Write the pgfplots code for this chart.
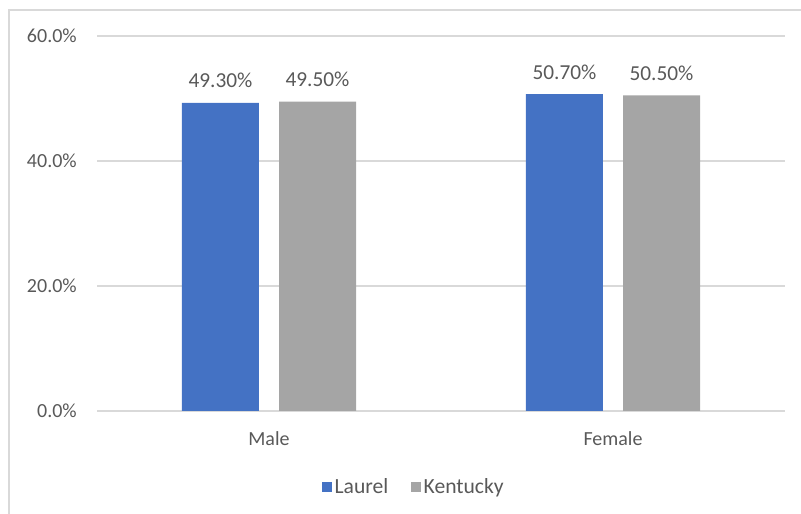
\documentclass[border=0pt]{standalone}
\usepackage{pgfplots}
\pgfplotsset{compat=1.18}
\usepackage{fontspec}
\setmainfont{Carlito}
\definecolor{laurel}{HTML}{4472C4}
\definecolor{kentucky}{HTML}{A5A5A5}
\definecolor{gridc}{HTML}{D9D9D9}
\definecolor{txt}{HTML}{595959}
\begin{document}
\begin{tikzpicture}[x=0.75pt,y=0.75pt]
\path[use as bounding box] (0,0) rectangle (801,514);
% chart frame
\draw[gridc, line width=1.5pt] (9,-5) -- (9,504) -- (806,504);
\begin{axis}[
  at={(72.75pt,77.25pt)}, anchor=south west,
  scale only axis, width=516pt, height=281.25pt,
  xmin=-0.5, xmax=1.5, ymin=0, ymax=60,
  ybar, bar width=57.75pt,
  /pgf/number format/assume math mode=true,
  xtick={0,1}, xticklabels={Male,Female},
  ytick={0,20,40,60},
  yticklabel={\pgfmathprintnumber[fixed,fixed zerofill,precision=1]{\tick}\%},
  axis line style={draw=none},
  major tick length=0pt,
  ymajorgrids, grid style={gridc, line width=0.9pt},
  tick label style={font=\fontsize{15}{18}\selectfont, text=txt, inner sep=0pt},
  yticklabel style={anchor=east, xshift=-15pt},
  xticklabel style={anchor=north, yshift=-15.5pt},
  nodes near coords={\pgfmathprintnumber[fixed,fixed zerofill,precision=2]{\pgfplotspointmeta}\%},
  every node near coord/.append style={font=\fontsize{16}{19}\selectfont, text=txt, inner sep=0pt, anchor=south, yshift=11pt},
  legend columns=2,
  legend style={at={(0.461,-0.203)}, anchor=center, draw=none, fill=none,
    font=\fontsize{16.2}{19}\selectfont, text=txt,
    /tikz/every even column/.append style={column sep=15pt}},
  legend image code/.code={\fill[#1] (-3.5pt,-3.75pt) rectangle (4pt,3.75pt);},
]
\addplot[fill=laurel, draw=none, bar shift=-36.4pt] coordinates {(0,49.3) (1,50.7)};
\addplot[fill=kentucky, draw=none, bar shift=36.4pt] coordinates {(0,49.5) (1,50.5)};
\legend{Laurel,Kentucky}
\end{axis}
\end{tikzpicture}
\end{document}
